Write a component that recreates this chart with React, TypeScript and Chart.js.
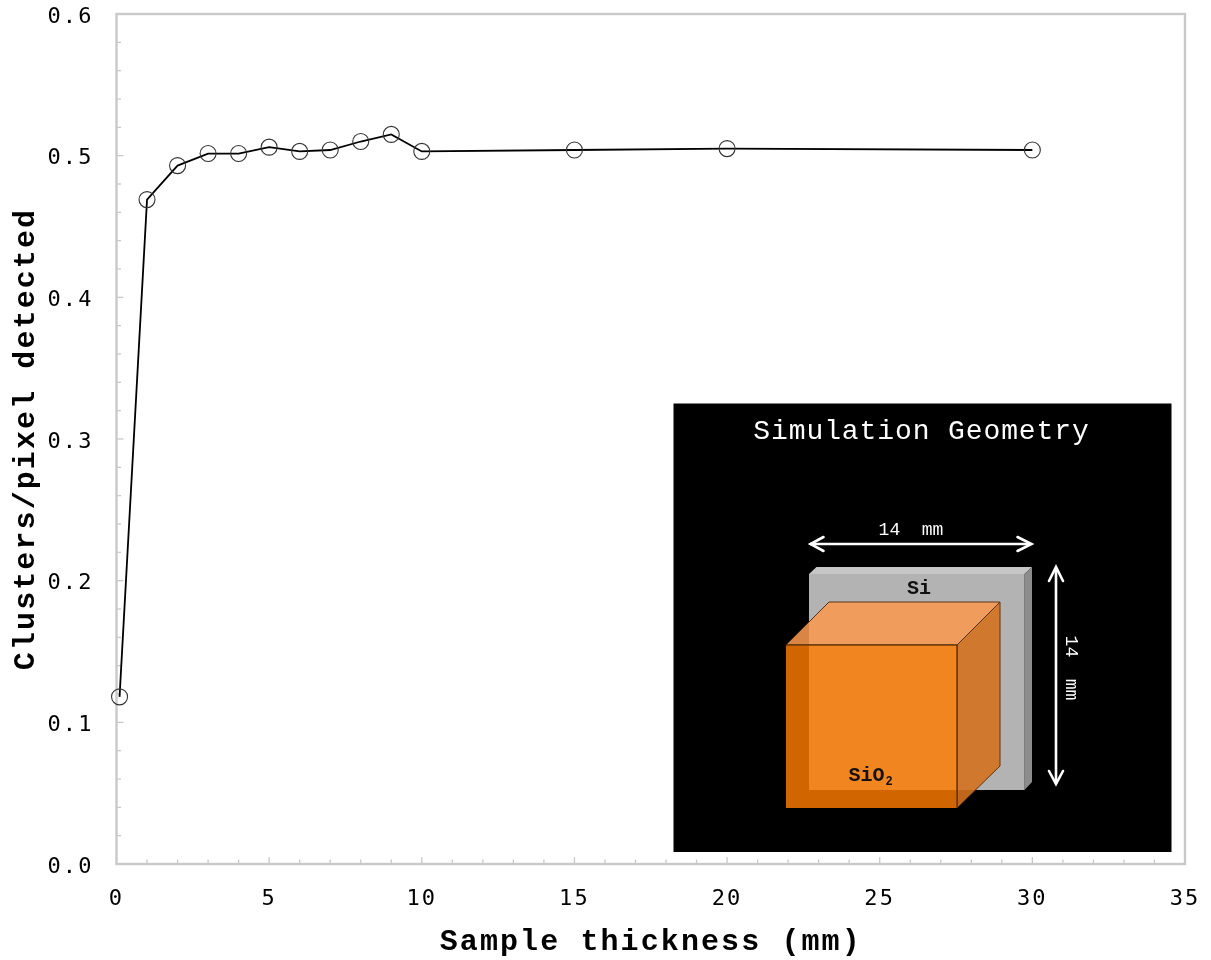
import React, { useEffect, useRef } from "react";
import { Chart, registerables } from "chart.js";

Chart.register(...registerables);

const thickness = [0.1, 1, 2, 3, 4, 5, 6, 7, 8, 9, 10, 15, 20, 30];
const clusters = [0.118, 0.469, 0.493, 0.5015, 0.5015, 0.506, 0.503, 0.504, 0.51, 0.515, 0.503, 0.504, 0.505, 0.504];
const seriesName = "Clusters/pixel detected";
const xTitle = "Sample thickness (mm)";
const yTitle = "Clusters/pixel detected";
const insetTitle = "Simulation Geometry";
const sizeLabel = "14  mm";

const MONO = '"Liberation Mono", monospace';
const SANS_MONO = '"DejaVu Sans Mono", monospace';
const AXIS = "#c9c9c9";

type P = [number, number];

function poly(ctx: any, pts: P[], fill: string, stroke?: string) {
  ctx.beginPath();
  pts.forEach((p, i) => (i ? ctx.lineTo(p[0], p[1]) : ctx.moveTo(p[0], p[1])));
  ctx.closePath();
  ctx.fillStyle = fill;
  ctx.fill();
  if (stroke) {
    ctx.strokeStyle = stroke;
    ctx.lineWidth = 1;
    ctx.stroke();
  }
}

function head(ctx: any, pts: P[]) {
  ctx.beginPath();
  pts.forEach((p, i) => (i ? ctx.lineTo(p[0], p[1]) : ctx.moveTo(p[0], p[1])));
  ctx.stroke();
}

const framePlugin = {
  id: "frame",
  beforeDraw(chart: any) {
    chart.ctx.letterSpacing = "2.1px";
  },
  beforeDatasetsDraw(chart: any) {
    const { ctx, chartArea: a, scales } = chart;
    ctx.save();
    ctx.strokeStyle = AXIS;
    ctx.lineWidth = 1.3;
    scales.x.ticks.forEach((t: any, i: number) => {
      const x = scales.x.getPixelForValue(t.value);
      ctx.beginPath();
      ctx.moveTo(x, a.bottom);
      ctx.lineTo(x, a.bottom - (i % 5 === 0 ? 7 : 4.5));
      ctx.stroke();
    });
    scales.y.ticks.forEach((t: any, i: number) => {
      const y = scales.y.getPixelForValue(t.value);
      ctx.beginPath();
      ctx.moveTo(a.left, y);
      ctx.lineTo(a.left + (i % 5 === 0 ? 7 : 4.5), y);
      ctx.stroke();
    });
    ctx.lineWidth = 2.4;
    ctx.strokeRect(a.left, a.top, a.right - a.left, a.bottom - a.top);
    ctx.restore();
  },
  afterDatasetsDraw(chart: any) {
    const { ctx, chartArea: a } = chart;
    // Inset illustration, positioned from the plot area's top-left corner
    const ox = a.left;
    const oy = a.top;
    const P = (x: number, y: number): P => [ox + x, oy + y];
    ctx.save();
    ctx.fillStyle = "#000";
    ctx.fillRect(ox + 557, oy + 389.5, 498, 448.5);

    ctx.textBaseline = "middle";
    ctx.textAlign = "center";
    ctx.fillStyle = "#fff";
    ctx.letterSpacing = "0.9px";
    ctx.font = `28px ${MONO}`;
    ctx.fillText(insetTitle, ox + 805, oy + 418);
    ctx.letterSpacing = "0px";
    ctx.font = `18px ${MONO}`;
    ctx.fillText(sizeLabel, ox + 794.5, oy + 516);

    // Si plate
    poly(ctx, [P(692.5, 560), P(908, 560), P(915.5, 553), P(700, 553)], "#c6c6c6");
    poly(ctx, [P(908, 560), P(915.5, 553), P(915.5, 768), P(908, 776)], "#8c8c8c");
    poly(ctx, [P(692.5, 560), P(908, 560), P(908, 776), P(692.5, 776)], "#b3b3b3");
    ctx.fillStyle = "#111";
    ctx.font = `bold 20px ${MONO}`;
    ctx.fillText("Si", ox + 802.5, oy + 575);

    // SiO2 cube
    poly(ctx, [P(669.5, 631), P(840.5, 631), P(883.5, 588), P(712.5, 588)], "rgba(249,153,80,0.87)", "#5a3410");
    poly(ctx, [P(840.5, 631), P(883.5, 588), P(883.5, 752), P(840.5, 794)], "rgba(211,113,31,0.9)", "#5a3410");
    poly(ctx, [P(669.5, 631), P(840.5, 631), P(840.5, 794), P(669.5, 794)], "rgba(255,123,0,0.82)");
    ctx.strokeStyle = "#3a2000";
    ctx.lineWidth = 1;
    ctx.beginPath();
    ctx.moveTo(ox + 669.5, oy + 631);
    ctx.lineTo(ox + 840.5, oy + 631);
    ctx.lineTo(ox + 840.5, oy + 794);
    ctx.stroke();

    ctx.fillStyle = "#111";
    ctx.textAlign = "left";
    ctx.font = `bold 20px ${MONO}`;
    ctx.fillText("SiO", ox + 732, oy + 762);
    ctx.font = `bold 12px ${MONO}`;
    ctx.fillText("2", ox + 769, oy + 768);

    // Dimension arrows
    ctx.strokeStyle = "#fff";
    ctx.lineWidth = 2.6;
    ctx.lineCap = "round";
    head(ctx, [P(694, 530), P(914, 530)]);
    head(ctx, [P(707, 523), P(694, 530), P(707, 537)]);
    head(ctx, [P(901, 523), P(915, 530), P(901, 537)]);
    head(ctx, [P(939.5, 554), P(939.5, 769)]);
    head(ctx, [P(932.5, 567), P(939.5, 553), P(946.5, 567)]);
    head(ctx, [P(932.5, 757), P(939.5, 770), P(946.5, 757)]);

    ctx.translate(ox + 954, oy + 654);
    ctx.rotate(Math.PI / 2);
    ctx.textAlign = "center";
    ctx.fillStyle = "#fff";
    ctx.font = `18px ${MONO}`;
    ctx.fillText(sizeLabel, 0, 0);
    ctx.restore();
  },
};

export default function App() {
  const ref = useRef<HTMLCanvasElement>(null);
  useEffect(() => {
    const chart = new Chart(ref.current as HTMLCanvasElement, {
      type: "line",
      data: {
        datasets: [
          {
            label: seriesName,
            data: thickness.map((x, i) => ({ x, y: clusters[i] })),
            borderColor: "#000",
            borderWidth: 1.8,
            tension: 0,
            pointRadius: 8,
            pointBorderWidth: 1.1,
            pointBorderColor: "#333",
            pointBackgroundColor: "transparent",
            clip: false,
          } as any,
        ],
      },
      options: {
        animation: false,
        responsive: false,
        layout: { padding: { left: 0, right: 26, top: 14, bottom: 0 } },
        plugins: { legend: { display: false }, tooltip: { enabled: false } },
        scales: {
          x: {
            type: "linear",
            min: 0,
            max: 35,
            grid: { display: false },
            border: { display: false },
            afterFit: (s: any) => {
              s.height = 96;
              s.paddingLeft = 0;
              s.paddingRight = 0;
            },
            ticks: {
              stepSize: 1,
              autoSkip: false,
              maxTicksLimit: 100,
              maxRotation: 0,
              padding: 14,
              color: "#000",
              font: { family: SANS_MONO, size: 22 },
              callback: (v: any) => (Number(v) % 5 === 0 ? String(v) : ""),
            },
            title: {
              display: true,
              text: xTitle,
              color: "#000",
              font: { family: MONO, size: 30, weight: "bold" },
              padding: { top: 0, bottom: 0 },
            },
          },
          y: {
            type: "linear",
            min: 0,
            max: 0.6,
            grid: { display: false },
            border: { display: false },
            afterFit: (s: any) => {
              s.width = 116.5;
              s.paddingTop = 0;
              s.paddingBottom = 0;
            },
            ticks: {
              stepSize: 0.02,
              autoSkip: false,
              maxTicksLimit: 100,
              padding: 15,
              labelOffset: 3,
              color: "#000",
              font: { family: SANS_MONO, size: 22 },
              callback: function (v: any, i: number) {
                return i % 5 === 0 ? Number(v).toFixed(1) : "";
              },
            },
            title: {
              display: true,
              text: yTitle,
              color: "#000",
              font: { family: MONO, size: 30, weight: "bold" },
              padding: { top: 8, bottom: 0 },
            },
          },
        },
      } as any,
      plugins: [framePlugin],
    });
    return () => chart.destroy();
  }, []);
  return (
    <canvas
      ref={ref}
      width={1211}
      height={960}
      style={{ position: "absolute", left: 0, top: 0, width: 1211, height: 960, background: "#fff" }}
    />
  );
}
